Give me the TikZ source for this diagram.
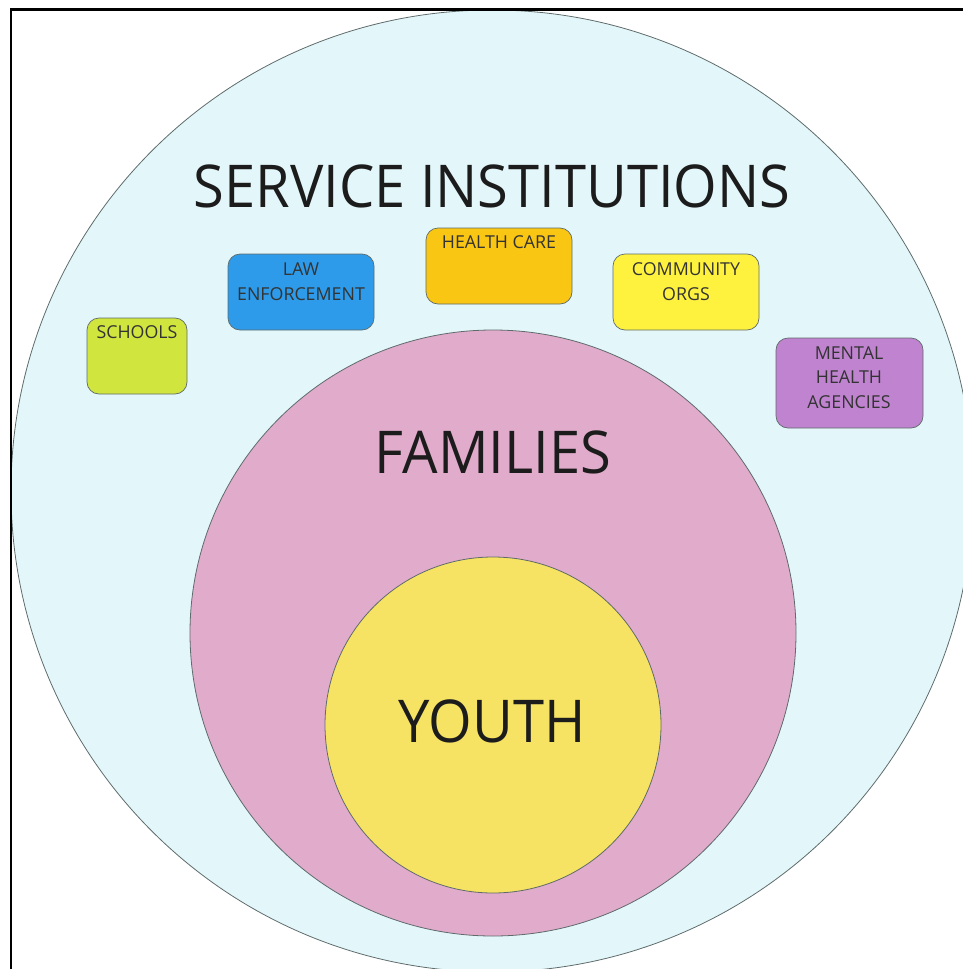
\documentclass[tikz,border=0pt]{standalone}
\usepackage{fontspec}
\setmainfont{Open Sans}
\newfontfamily\bigfont[FakeStretch=0.95]{Open Sans}
\definecolor{outerfill}{HTML}{E3F7FA}
\definecolor{famfill}{HTML}{E1ABCB}
\definecolor{youthfill}{HTML}{F6E363}
\definecolor{schoolfill}{HTML}{D1E53F}
\definecolor{lawfill}{HTML}{2D9BEA}
\definecolor{healthfill}{HTML}{F9C613}
\definecolor{commfill}{HTML}{FFF23F}
\definecolor{mentalfill}{HTML}{BF83CF}
\definecolor{edge}{HTML}{5F6B6B}
\definecolor{ink}{HTML}{1C1C1C}
\definecolor{boxink}{HTML}{333333}
\begin{document}
\begin{tikzpicture}[x=1pt,y=-1pt,
  ring/.style={circle,draw=edge,line width=0.8pt,inner sep=0pt},
  bigtext/.style={font=\bigfont\fontsize{59}{70}\selectfont,text=ink,anchor=base,inner sep=0pt},
  agencybox/.style={draw=edge,line width=0.7pt,rounded corners=12pt},
  agencytext/.style={text=boxink,font=\fontsize{17.8}{24.5}\selectfont,align=center,anchor=base,inner sep=0pt}]
\useasboundingbox (0,0) rectangle (963,969);
\begin{scope}
\clip (0,0) rectangle (963,969);
\node[ring,fill=outerfill,minimum size=962pt] (outer) at (492,491) {};
\end{scope}
\node[ring,fill=famfill,minimum size=606pt] (fam) at (493,633) {};
\node[ring,fill=youthfill,minimum size=336pt] (youth) at (493,725) {};
\node[bigtext] (title) at (492,207) {SERVICE INSTITUTIONS};
\node[bigtext] (famlabel) at (493,473) {FAMILIES};
\node[bigtext] (youthlabel) at (492,742) {YOUTH};
% agency boxes
\draw[agencybox,fill=schoolfill] (87,318) rectangle (187,394);
\draw[agencybox,fill=lawfill] (228,254) rectangle (374,330);
\draw[agencybox,fill=healthfill] (426,228) rectangle (572,304);
\draw[agencybox,fill=commfill] (613,254) rectangle (759,330);
\draw[agencybox,fill=mentalfill] (776,338) rectangle (923,428);
\node[agencytext] (schools) at (137,338) {SCHOOLS};
\node[agencytext] (law) at (301,300) {LAW\\ENFORCEMENT};
\node[agencytext] (health) at (499,248) {HEALTH CARE};
\node[agencytext] (comm) at (686,300) {COMMUNITY\\ORGS};
\node[agencytext] (mental) at (849,408) {MENTAL\\HEALTH\\AGENCIES};
% frame
\draw[line width=2.5pt,black] (963,9.5) -- (11,9.5) -- (11,969);
\end{tikzpicture}
\end{document}
